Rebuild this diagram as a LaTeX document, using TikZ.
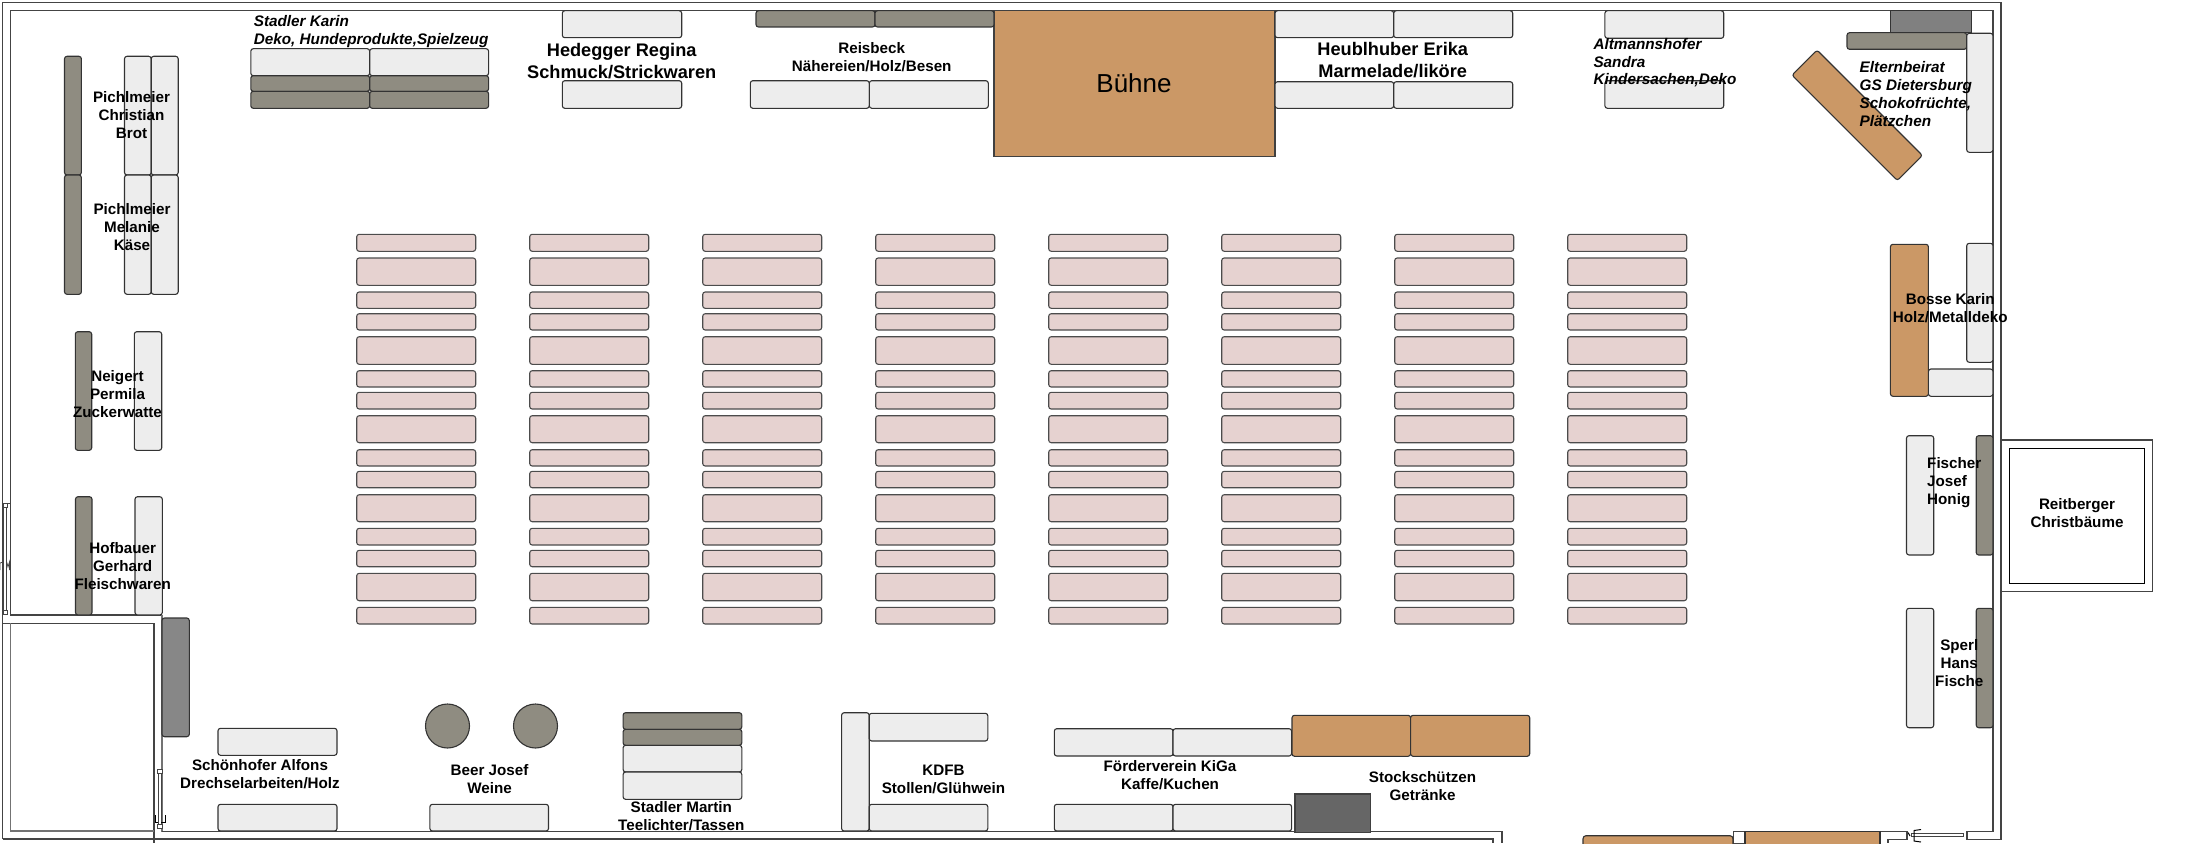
\documentclass[tikz,border=0pt]{standalone}
\usepackage{fontspec}
\setmainfont{Liberation Sans}
\definecolor{cWhite}{HTML}{EDEDED}
\definecolor{cTaupe}{HTML}{8F8C81}
\definecolor{cOrange}{HTML}{CB9866}
\definecolor{cPink}{HTML}{E6D2D0}
\definecolor{cWall}{HTML}{444444}
\tikzset{
  tbl/.style={draw=black!80,line width=1.1pt,rounded corners=2.5pt},
  wtbl/.style={tbl,fill=cWhite},
  ttbl/.style={tbl,fill=cTaupe},
  otbl/.style={tbl,fill=cOrange},
  ptbl/.style={tbl,fill=cPink,draw=black!70},
  wall/.style={draw=cWall,line width=1.1pt},
  lab/.style={inner sep=0pt,align=center,font=\fontsize{15.2}{18}\selectfont\bfseries},
  labl/.style={lab,align=left},
  ilab/.style={inner sep=0pt,align=left,font=\fontsize{15.3}{17.9}\selectfont\bfseries\itshape},
  biglab/.style={lab,font=\fontsize{18.2}{22}\selectfont\bfseries},
}
\newcommand{\tb}[5]{\draw[#1] (#2,#3) rectangle (#4,#5);}
\begin{document}
\begin{tikzpicture}[x=1pt,y=-1pt]
\useasboundingbox (0,0) rectangle (2197,843);
% walls
\draw[wall] (2.7,839) -- (2.7,2.7) -- (2001,2.7) -- (2001,839.3) -- (1967,839.3) -- (1967,831.7) -- (1993,831.7) -- (1993,10.7) -- (10.7,10.7) -- (10.7,615) -- (162,615);
\draw[draw=black!55,line width=1.1pt] (162,615) -- (162,831.7);
\draw[wall] (162,831.7) -- (1502,831.7) -- (1502,843);
\draw[wall] (2.7,839) -- (1493,839) -- (1493,843);
\draw[wall] (2.7,623.3) -- (154,623.3) -- (154,843);
\draw[draw=black!55,line width=1.1pt] (10.7,623.3) -- (10.7,831) -- (154,831);
\draw[wall] (1880,843) -- (1880,831.7) -- (1907,831.7) -- (1907,839.5) -- (1888,839.5) -- (1888,843);
\draw[wall,line width=1pt,fill=white] (1733.6,831.7) rectangle (1745,843);
% doors
\draw[wall,line width=.8pt] (2.7,503.3) -- (10.7,503.3);
\draw[wall,line width=.8pt,fill=white] (3.5,507) rectangle (6.7,610);
\draw[wall,line width=.8pt,fill=white] (3.5,503.6) rectangle (7.3,507.3);
\draw[wall,line width=.8pt,fill=white] (3.5,610) rectangle (7.3,614);
\draw[wall,line width=.8pt] (0,570) -- (0,563) -- (3,562) (6.7,562) -- (8,567) -- (9.5,562) -- (9.5,570);
\draw[wall,line width=.8pt,fill=white] (158.5,773) rectangle (161,825);
\draw[wall,line width=.8pt,fill=white] (157.5,769.5) rectangle (162,773.5);
\draw[wall,line width=.8pt,fill=white] (157.5,824) rectangle (162,828);
\draw[black,line width=1pt] (155.5,815) -- (155.5,822) -- (158,822) (161,822) -- (165.5,822) -- (165.5,815);
\draw[wall,line width=.8pt,fill=white] (1911,833) rectangle (1963,836);
\draw[black,line width=1pt] (1921,829.5) -- (1914,830.5) -- (1914,841) -- (1921,842) (1908,832.5) -- (1910,836);
% Buehne
\draw[draw=black!75,line width=1.1pt,fill=cOrange] (994,10.7) rectangle (1275,156.7);
% Pichlmeier
\tb{ttbl}{64.5}{56.3}{81.4}{175}
\tb{ttbl}{64.5}{175}{81.4}{294.3}
\tb{wtbl}{124.5}{56.3}{151.2}{175}
\tb{wtbl}{151.2}{56.3}{178.2}{175}
\tb{wtbl}{124.5}{175}{151.2}{294.3}
\tb{wtbl}{151.2}{175}{178.2}{294.3}
% Stadler Karin
\tb{wtbl}{250.8}{48.7}{369.7}{75.7}
\tb{wtbl}{369.7}{48.7}{488.6}{75.7}
\tb{ttbl}{250.8}{75.7}{369.7}{91.3}
\tb{ttbl}{369.7}{75.7}{488.6}{91.3}
\tb{ttbl}{250.8}{91.3}{369.7}{108.3}
\tb{ttbl}{369.7}{91.3}{488.6}{108.3}
% Hedegger
\tb{wtbl}{562.3}{10.7}{681.7}{37.7}
\tb{wtbl}{562.3}{80.7}{681.7}{108.3}
% Reisbeck
\tb{ttbl}{756}{10.7}{875}{27}
\tb{ttbl}{875}{10.7}{994}{27}
\tb{wtbl}{750.3}{80.7}{869.3}{108.3}
\tb{wtbl}{869.3}{80.7}{988.3}{108.3}
% Heublhuber
\tb{wtbl}{1275}{10.7}{1393.7}{37.7}
\tb{wtbl}{1393.7}{10.7}{1512.7}{37.7}
\tb{wtbl}{1275}{81.7}{1393.7}{108.3}
\tb{wtbl}{1393.7}{81.7}{1512.7}{108.3}
% Altmannshofer
\tb{wtbl}{1604.9}{10.7}{1723.7}{38.3}
\tb{wtbl}{1604.9}{80.7}{1723.7}{108.3}
% Elternbeirat
\draw[draw=black!80,line width=1.1pt,fill=gray] (1890.4,10.7) rectangle (1971.7,32.7);
\tb{ttbl}{1847}{32.7}{1966.7}{49.3}
\tb{wtbl}{1966.7}{33.3}{1993}{152.3}
\node[otbl,rotate=-45,minimum width=149pt,minimum height=35.5pt,inner sep=0pt] (eb) at (1857.2,115.3) {};
% pink rows
\foreach \c in {0,...,7}{
  \foreach \a/\b in {234.3/251.3,258/285.3,292/308.3,313.7/330,336.7/364.3,370.7/387,392.3/409,415.7/442.7,449.7/466,471.3/487.7,494.7/521.7,528.3/545,550.3/566.7,573.3/600.7,607.3/624}{
    \draw[ptbl] ({356.7+173*\c},\a) rectangle ({475.7+173*\c},\b);
  }
}
% Bosse
\tb{wtbl}{1966.7}{243.3}{1993}{362.3}
\tb{wtbl}{1928.4}{369}{1993}{396.3}
\tb{otbl}{1890.4}{244.3}{1928.4}{396.3}
% Fischer, Sperl
\tb{wtbl}{1906.5}{435.7}{1933.7}{555}
\tb{ttbl}{1976.2}{435.7}{1993}{555}
\tb{wtbl}{1906.5}{608.3}{1933.7}{727.7}
\tb{ttbl}{1976.2}{608.3}{1993}{727.7}
% Reitberger
\draw[wall] (2001,440) rectangle (2152.4,591.3);
\draw[draw=black,line width=1.1pt] (2009.3,448.3) rectangle (2144.6,583.3);
% Neigert, Hofbauer
\tb{ttbl}{75.3}{331.7}{91.7}{450.3}
\tb{wtbl}{134.3}{331.7}{161.7}{450.3}
\tb{ttbl}{75.5}{496.7}{92}{615}
\tb{wtbl}{135}{496.7}{162.3}{615}
\draw[tbl,fill=black!47] (162,618) rectangle (189.3,736.7);
% Schoenhofer
\tb{wtbl}{218}{728.3}{337}{755.3}
\tb{wtbl}{218}{804.3}{337}{831}
% Beer
\draw[draw=black!80,line width=1.1pt,fill=cTaupe] (447.5,726) circle (22pt);
\draw[draw=black!80,line width=1.1pt,fill=cTaupe] (535.5,726) circle (22pt);
\tb{wtbl}{429.9}{804.3}{548.5}{831}
% Stadler Martin
\tb{ttbl}{623.1}{712.7}{741.8}{729.3}
\tb{ttbl}{623.1}{729.3}{741.8}{745.3}
\tb{wtbl}{623.1}{745.3}{741.8}{772}
\tb{wtbl}{623.1}{772}{741.8}{799.3}
% KDFB
\tb{wtbl}{841.6}{712.7}{869.2}{831}
\tb{wtbl}{869.2}{713.3}{987.8}{741}
\tb{wtbl}{869.2}{804.3}{987.8}{831}
% Foerderverein
\tb{wtbl}{1054.3}{728.7}{1173}{756}
\tb{wtbl}{1173}{728.7}{1291.6}{756}
\tb{wtbl}{1054.3}{804.3}{1173}{831}
\tb{wtbl}{1173}{804.3}{1291.6}{831}
% Stockschuetzen
\tb{otbl}{1292}{715.3}{1410.6}{756.3}
\tb{otbl}{1410.6}{715.3}{1529.7}{756.3}
\draw[draw=black!75,line width=1.1pt,fill=black!60] (1295,794) rectangle (1370.8,832.3);
% bottom orange tables
\draw[otbl,rounded corners=3pt] (1583,850) -- (1583,835.7) -- (1733,835.7) -- (1733,850);
\draw[otbl,sharp corners] (1745,850) -- (1745,831.7) -- (1880,831.7) -- (1880,850);
% labels
\node[lab] (t1) at (131.5,115) {Pichlmeier\\Christian\\Brot};
\node[lab] (t2) at (132,227.5) {Pichlmeier\\Melanie\\Käse};
\node[ilab,anchor=west] (t3) at (253.6,31.8) {Stadler Karin\\Deko, Hundeprodukte,Spielzeug};
\node[biglab] (t4) at (621.7,61.2) {Hedegger Regina\\Schmuck/Strickwaren};
\node[lab] (t5) at (871.7,57.3) {Reisbeck\\Nähereien/Holz/Besen};
\node[inner sep=0pt,font=\fontsize{26}{30}\selectfont] (t6) at (1134,83) {Bühne};
\node[biglab] (t7) at (1392.7,60) {Heublhuber Erika\\Marmelade/liköre};
\node[ilab,anchor=west] (t8) at (1593.3,62.7) {Altmannshofer\\Sandra\\Kindersachen,Deko};
\node[ilab,anchor=west] (t9) at (1859.5,94.2) {Elternbeirat\\GS Dietersburg\\Schokofrüchte,\\Plätzchen};
\node[lab] (t10) at (1950.2,308.3) {Bosse Karin\\Holz/Metalldeko};
\node[labl,anchor=west] (t11) at (1927,482.2) {Fischer\\Josef\\Honig};
\node[lab] (t12) at (1959.3,663) {Sperl\\Hans\\Fische};
\node[lab] (t13) at (2077,512.8) {Reitberger\\Christbäume};
\node[lab] (t14) at (117.5,394.5) {Neigert\\Permila\\Zuckerwatte};
\node[lab] (t15) at (122.7,566.5) {Hofbauer\\Gerhard\\Fleischwaren};
\node[lab] (t16) at (260,774) {Schönhofer Alfons\\Drechselarbeiten/Holz};
\node[lab] (t17) at (489.6,779.5) {Beer Josef\\Weine};
\node[lab] (t18) at (681.3,816) {Stadler Martin\\Teelichter/Tassen};
\node[lab] (t19) at (943.4,779.5) {KDFB\\Stollen/Glühwein};
\node[lab] (t20) at (1170,775) {Förderverein KiGa\\Kaffe/Kuchen};
\node[lab] (t21) at (1422.5,786) {Stockschützen\\Getränke};
\end{tikzpicture}
\end{document}
